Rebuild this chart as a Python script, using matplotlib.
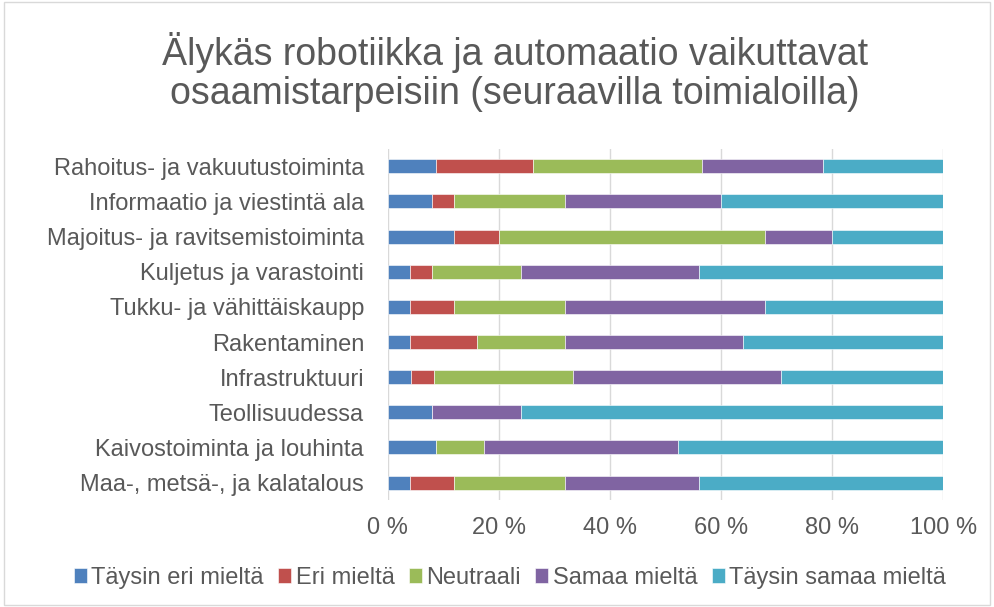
import matplotlib
matplotlib.use("Agg")
import matplotlib.pyplot as plt
import numpy as np
from matplotlib.patches import Rectangle

plt.rcParams["font.family"] = ["Liberation Sans", "DejaVu Sans"]

# categories listed bottom to top
categories = [
    "Maa-, metsä-, ja kalatalous",
    "Kaivostoiminta ja louhinta",
    "Teollisuudessa",
    "Infrastruktuuri",
    "Rakentaminen",
    "Tukku- ja vähittäiskaupp",
    "Kuljetus ja varastointi",
    "Majoitus- ja ravitsemistoiminta",
    "Informaatio ja viestintä ala",
    "Rahoitus- ja vakuutustoiminta",
]

series_names = ["Täysin eri mieltä", "Eri mieltä", "Neutraali",
                "Samaa mieltä", "Täysin samaa mieltä"]

# answer counts per category (same order as categories)
taysin_eri = [1, 2, 2, 1, 1, 1, 1, 3, 2, 2]
eri = [2, 0, 0, 1, 3, 2, 1, 2, 1, 4]
neutraali = [5, 2, 0, 6, 4, 5, 4, 12, 5, 7]
samaa = [6, 8, 4, 9, 8, 9, 8, 3, 7, 5]
taysin_samaa = [11, 11, 19, 7, 9, 8, 11, 5, 10, 5]

colors = ["#4F81BD", "#C0504D", "#9BBB59", "#8064A2", "#4BACC6"]
text_col = "#595959"

counts = np.array([taysin_eri, eri, neutraali, samaa, taysin_samaa], dtype=float)
shares = counts / counts.sum(axis=0) * 100

fig = plt.figure(figsize=(9.94, 6.07), dpi=100)
ax = fig.add_axes([0.390, 0.176, 0.559, 0.579])

y = np.arange(len(categories))
left = np.zeros(len(categories))
for i, name in enumerate(series_names):
    ax.barh(y, shares[i], left=left, height=0.4, color=colors[i],
            edgecolor="white", linewidth=0.4, label=name, zorder=3)
    left += shares[i]

ax.set_xlim(0, 100)
ax.set_ylim(-0.5, len(categories) - 0.5)
ax.set_xticks(np.arange(0, 101, 20))
ax.set_xticklabels([f"{v} %" for v in range(0, 101, 20)])
ax.set_yticks(y)
ax.set_yticklabels(categories)
ax.grid(axis="x", color="#D9D9D9", linewidth=1, zorder=0)
for s in ax.spines.values():
    s.set_visible(False)
ax.tick_params(axis="both", length=0, labelsize=17, colors=text_col)
ax.tick_params(axis="x", pad=12)
ax.tick_params(axis="y", pad=17)

fig.text(0.518, 0.882,
         "Älykäs robotiikka ja automaatio vaikuttavat\nosaamistarpeisiin (seuraavilla toimialoilla)",
         ha="center", va="center", fontsize=27, color=text_col, linespacing=1.1)

ax.legend(loc="center", bbox_to_anchor=(0.513, 0.048), bbox_transform=fig.transFigure,
          ncol=5, frameon=False, fontsize=17, labelcolor=text_col,
          handlelength=0.55, handleheight=0.55, handletextpad=0.2, columnspacing=0.6)

fig.patches.append(Rectangle((0.004, 0.004), 0.992, 0.992, transform=fig.transFigure,
                             fill=False, edgecolor="#D9D9D9", linewidth=1))

fig.savefig("out.png", dpi=100)
